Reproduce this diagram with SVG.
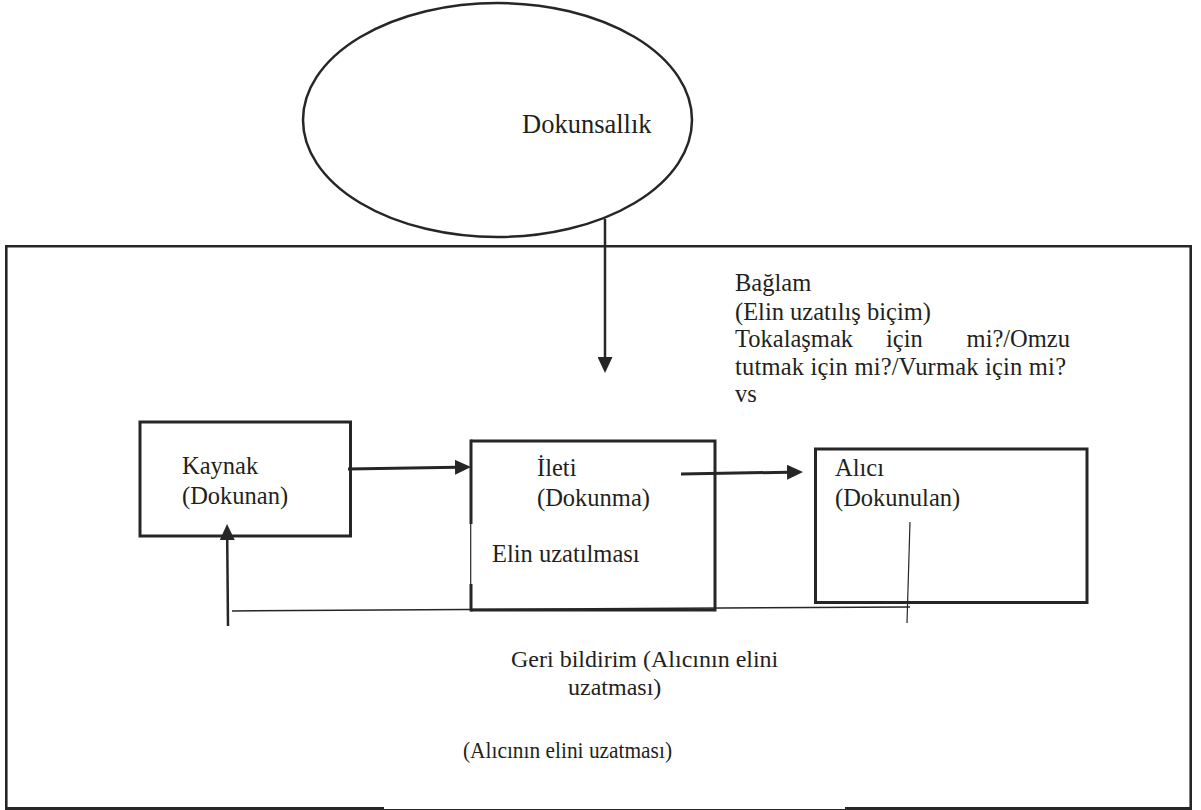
<svg xmlns="http://www.w3.org/2000/svg" width="1201" height="810" viewBox="0 0 1201 810">
<style>
  .ln{fill:none;stroke:#262626;stroke-linecap:butt}
  .box{fill:none;stroke:#262626;stroke-width:3}
  .t{font-family:"Liberation Serif","Times New Roman",serif;fill:#231f20}
  .c{font-size:24.5px}
</style>
<defs>
  <marker id="ah" markerUnits="userSpaceOnUse" markerWidth="16" markerHeight="15" refX="2" refY="7.5" orient="auto" viewBox="0 0 16 15">
    <path d="M0,0 L16,7.5 L0,15 z" fill="#262626"/>
  </marker>
</defs>
<rect width="1201" height="810" fill="#fff"/>

<g id="frame">
  <path class="ln" stroke-width="2.6" d="M6.3,808.5 V246.2 H1190.7 V808.5"/>
  <line class="ln" stroke-width="3" x1="5" y1="808.5" x2="384" y2="808.5"/>
  <line class="ln" stroke-width="1" x1="384" y1="809.5" x2="845" y2="809.5"/>
  <line class="ln" stroke-width="3" x1="845" y1="808.5" x2="1192" y2="808.5"/>
</g>

<g id="dokunsallik">
  <ellipse cx="497.5" cy="120" rx="194.5" ry="117" fill="none" stroke="#262626" stroke-width="2.5"/>
  <text class="t" x="522" y="133" font-size="26.5">Dokunsallık</text>
</g>

<g id="baglam">
  <text class="t c" x="735" y="291">Bağlam</text>
  <text class="t c" x="735" y="320">(Elin uzatılış biçim)</text>
  <text class="t c" x="735" y="347">Tokalaşmak</text>
  <text class="t c" x="886" y="347">için</text>
  <text class="t c" x="1070" y="347" text-anchor="end">mi?/Omzu</text>
  <text class="t c" x="735" y="375" textLength="331" lengthAdjust="spacing">tutmak için mi?/Vurmak için mi?</text>
  <text class="t c" x="735" y="402">vs</text>
</g>

<g id="kaynak">
  <rect class="box" x="140" y="422" width="210.5" height="114"/>
  <text class="t c" x="182" y="474">Kaynak</text>
  <text class="t c" x="182" y="504">(Dokunan)</text>
</g>

<g id="ileti">
  <path class="box" d="M471,441 H715 V610 H471"/>
  <line class="ln" stroke-width="3" x1="471" y1="439.5" x2="471" y2="524"/>
  <line class="ln" stroke-width="1.2" x1="470.7" y1="524" x2="470.7" y2="584"/>
  <line class="ln" stroke-width="3" x1="471" y1="584" x2="471" y2="611.5"/>
  <text class="t c" x="537" y="476">İleti</text>
  <text class="t c" x="537" y="506">(Dokunma)</text>
  <text class="t c" x="492" y="562">Elin uzatılması</text>
</g>

<g id="alici">
  <rect class="box" x="815.5" y="449" width="271.5" height="153.5"/>
  <text class="t c" x="835" y="476">Alıcı</text>
  <text class="t c" x="835" y="506">(Dokunulan)</text>
</g>

<g id="geri-bildirim">
  <text class="t" x="511" y="667" font-size="24">Geri bildirim (Alıcının elini</text>
  <text class="t" x="568" y="695" font-size="24">uzatması)</text>
  <text class="t" x="463" y="758" font-size="23" textLength="209" lengthAdjust="spacingAndGlyphs">(Alıcının elini uzatması)</text>
</g>

<g id="connectors">
  <line class="ln" stroke-width="2.5" x1="605" y1="219" x2="605" y2="359" marker-end="url(#ah)"/>
  <line class="ln" stroke-width="3" x1="348" y1="469" x2="457" y2="467.3" marker-end="url(#ah)"/>
  <line class="ln" stroke-width="3" x1="681" y1="474" x2="789" y2="472.2" marker-end="url(#ah)"/>
  <line class="ln" stroke-width="1.2" x1="910" y1="522" x2="907" y2="623"/>
  <line class="ln" stroke-width="1.5" x1="232" y1="611" x2="910" y2="607"/>
  <line class="ln" stroke-width="2.5" x1="228" y1="626" x2="227.2" y2="538" marker-end="url(#ah)"/>
</g>
</svg>
